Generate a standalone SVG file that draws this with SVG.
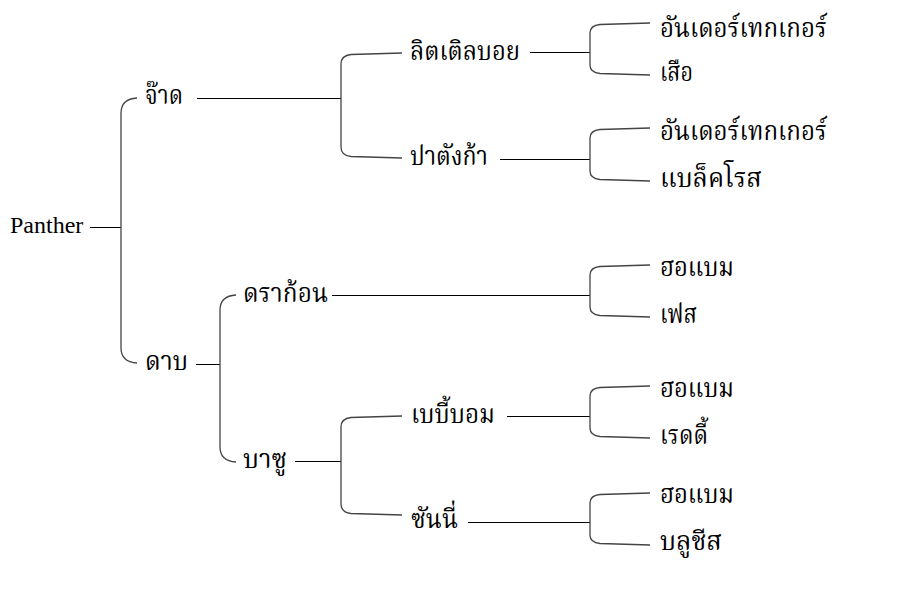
<svg xmlns="http://www.w3.org/2000/svg" width="907" height="600" viewBox="0 0 907 600">
<style>
text{font-family:"Norasi","Noto Serif Thai","Noto Sans Thai","Liberation Serif",serif;font-size:26px;fill:#000}
text.en{font-family:"Liberation Serif","Times New Roman",serif;font-size:24px}
.ln{stroke:#000;stroke-width:1;fill:none}
.br{stroke:#444;stroke-width:1.3;fill:none}
</style>
<rect width="907" height="600" fill="#fff"/>
<g id="connectors">
<path class="ln" d="M90,227.5H121"/>
<path class="br" d="M137,98 Q121,99 121,113 V348 Q121,362 137,363"/>
<path class="ln" d="M197,98.5H341"/>
<path class="br" d="M402,53 L351,54.5 Q341,55.5 341,64 V147 Q341,155.5 351,156.5 L402,158"/>
<path class="ln" d="M530,52.5H590"/>
<path class="br" d="M650,23 L600,24.5 Q590,25.5 590,33 V65 Q590,72.5 600,73.5 L650,75"/>
<path class="ln" d="M500,159.5H590"/>
<path class="br" d="M650,128 L600,129.5 Q590,130.5 590,138 V171 Q590,178.5 600,179.5 L650,181"/>
<path class="ln" d="M196,364.5H220"/>
<path class="br" d="M236,295 Q220,296 220,310 V447 Q220,461 236,462"/>
<path class="ln" d="M332,295.5H590"/>
<path class="br" d="M650,265 L600,266.5 Q590,267.5 590,275 V307 Q590,314.5 600,315.5 L650,317"/>
<path class="ln" d="M295,461.5H341"/>
<path class="br" d="M402,416 L351,417.5 Q341,418.5 341,427 V504 Q341,512.5 351,513.5 L402,515"/>
<path class="ln" d="M507,416.5H590"/>
<path class="br" d="M650,386 L600,387.5 Q590,388.5 590,396 V428 Q590,435.5 600,436.5 L650,438"/>
<path class="ln" d="M468,522.5H590"/>
<path class="br" d="M650,493 L600,494.5 Q590,495.5 590,503 V535 Q590,542.5 600,543.5 L650,545"/>
</g>
<g id="n-panther"><text class="en" x="10" y="233">Panther</text></g>
<g id="n-jaad"><text x="145" y="104" textLength="38" lengthAdjust="spacingAndGlyphs">จ๊าด</text></g>
<g id="n-daab"><text x="145" y="370" textLength="43" lengthAdjust="spacingAndGlyphs">ดาบ</text></g>
<g id="n-littleboy"><text x="410" y="60" textLength="110" lengthAdjust="spacingAndGlyphs">ลิตเติลบอย</text></g>
<g id="n-patangka"><text x="410" y="165" textLength="78" lengthAdjust="spacingAndGlyphs">ปาตังก้า</text></g>
<g id="n-undertaker1"><text x="660" y="37" textLength="167" lengthAdjust="spacingAndGlyphs">อันเดอร์เทกเกอร์</text></g>
<g id="n-suea"><text x="660" y="81" textLength="33" lengthAdjust="spacingAndGlyphs">เสือ</text></g>
<g id="n-undertaker2"><text x="660" y="140" textLength="167" lengthAdjust="spacingAndGlyphs">อันเดอร์เทกเกอร์</text></g>
<g id="n-blackrose"><text x="660" y="187" textLength="102" lengthAdjust="spacingAndGlyphs">แบล็คโรส</text></g>
<g id="n-dragon"><text x="243" y="302" textLength="85" lengthAdjust="spacingAndGlyphs">ดราก้อน</text></g>
<g id="n-basu"><text x="243" y="468" textLength="44" lengthAdjust="spacingAndGlyphs">บาซู</text></g>
<g id="n-babyboom"><text x="411" y="423" textLength="84" lengthAdjust="spacingAndGlyphs">เบบี้บอม</text></g>
<g id="n-sunny"><text x="411" y="528" textLength="47" lengthAdjust="spacingAndGlyphs">ซันนี่</text></g>
<g id="n-hobam1"><text x="660" y="276" textLength="74" lengthAdjust="spacingAndGlyphs">ฮอแบม</text></g>
<g id="n-face"><text x="660" y="323" textLength="37" lengthAdjust="spacingAndGlyphs">เฟส</text></g>
<g id="n-hobam2"><text x="660" y="397" textLength="74" lengthAdjust="spacingAndGlyphs">ฮอแบม</text></g>
<g id="n-reddy"><text x="660" y="444" textLength="48" lengthAdjust="spacingAndGlyphs">เรดดี้</text></g>
<g id="n-hobam3"><text x="660" y="503" textLength="74" lengthAdjust="spacingAndGlyphs">ฮอแบม</text></g>
<g id="n-bluecheese"><text x="660" y="550" textLength="62" lengthAdjust="spacingAndGlyphs">บลูชีส</text></g>
</svg>
